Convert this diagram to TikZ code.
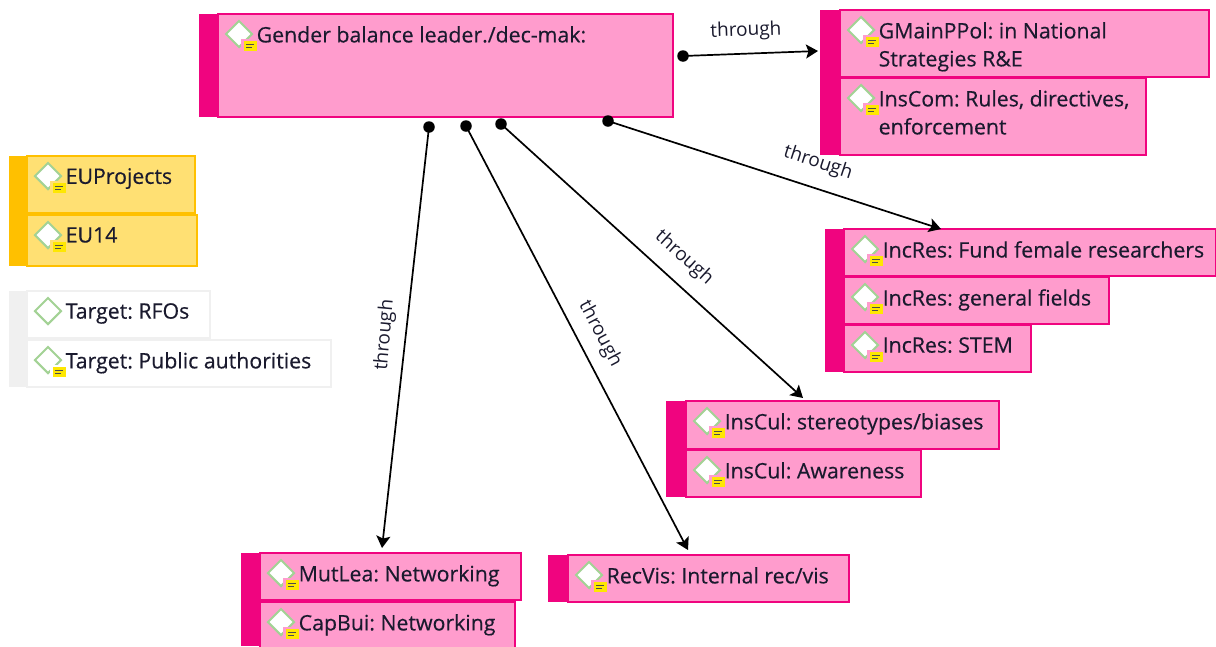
\documentclass[tikz,border=0pt]{standalone}
\usepackage{fontspec}
\setmainfont{Open Sans}
\newfontfamily\itemfont[FakeBold=0.4]{Open Sans}
\usetikzlibrary{calc,arrows.meta}
\definecolor{pinkfill}{HTML}{FF9CCD}
\definecolor{pinkedge}{HTML}{F0047F}
\definecolor{yelfill}{HTML}{FFE073}
\definecolor{yeledge}{HTML}{FFC000}
\definecolor{greyedge}{HTML}{F0F0F0}
\definecolor{diaedge}{HTML}{A3D295}
\definecolor{txt}{HTML}{1A1A2E}
\tikzset{
  x=1pt,y=-1pt,
  box/.style={draw,line width=1.5pt,inner sep=0pt,outer sep=0pt,anchor=north west},
  pinkbox/.style={box,fill=pinkfill,draw=pinkedge},
  yelbox/.style={box,fill=yelfill,draw=yeledge},
  whitebox/.style={box,fill=white,draw=greyedge},
  pinkband/.style={inner sep=0pt,outer sep=0pt,anchor=north west,fill=pinkedge},
  yelband/.style={inner sep=0pt,outer sep=0pt,anchor=north west,fill=yeledge},
  greyband/.style={inner sep=0pt,outer sep=0pt,anchor=north west,fill=greyedge},
  itemtext/.style={inner sep=0pt,anchor=north west,text=txt,font=\itemfont\fontsize{21.3}{28}\selectfont\frenchspacing,align=left},
  linktext/.style={inner sep=0pt,text=txt,font=\fontsize{19}{23}\selectfont},
  link/.style={line width=1.7pt,black,-{Stealth[length=12pt,width=14pt,inset=2.5pt]}},
  dot/.style={circle,fill=black,inner sep=0pt,minimum size=11.5pt},
}
% name, x1, y1, x2, y2, style, text
\newcommand{\boxitem}[7]{%
  \node[#6,minimum width=#4-#2,minimum height=#5-#3] (#1) at (#2,#3) {};
  \node[rotate=45,draw=diaedge,fill=white,line width=2pt,inner sep=0pt,minimum size=18.5pt] (#1d) at ($(#1.north west)+(21,20)$) {};
  \node[itemtext] (#1t) at ($(#1.north west)+(38.5,12)$) {\rule{0pt}{15pt}#7};
}
% name, background colour
\newcommand{\noteicon}[2]{%
  \fill[#2] ($(#1.north west)+(23,25)$) rectangle ($(#1.north west)+(39,37)$);
  \fill[yellow!90!orange] ($(#1.north west)+(25.5,27)$) rectangle ($(#1.north west)+(38.5,37)$);
  \draw[black!70,line width=1.1pt] ($(#1.north west)+(28,30.5)$) -- ($(#1.north west)+(36,30.5)$)
    ($(#1.north west)+(28,33.5)$) -- ($(#1.north west)+(34,33.5)$);
}
\begin{document}
\begin{tikzpicture}
\useasboundingbox (0,0) rectangle (1216,646);
% bands
\node[pinkband,minimum width=19,minimum height=103] (bmain) at (199,14) {};
\node[pinkband,minimum width=20,minimum height=145] (bg) at (820,10) {};
\node[pinkband,minimum width=19,minimum height=143] (bi) at (825,229) {};
\node[pinkband,minimum width=20,minimum height=96] (bc) at (666,401) {};
\node[pinkband,minimum width=19,minimum height=93] (bm) at (241,553) {};
\node[pinkband,minimum width=20,minimum height=47] (br) at (548,555) {};
\node[yelband,minimum width=18,minimum height=110] (be) at (9,156) {};
\node[greyband,minimum width=18,minimum height=96] (bt) at (9,291) {};
% items
\boxitem{main}{218}{14}{673}{117}{pinkbox}{Gender balance leader./dec-mak:}\noteicon{main}{pinkfill}
\boxitem{gmain}{840}{10}{1209}{77}{pinkbox}{GMainPPol: in National\\Strategies R\&E}\noteicon{gmain}{pinkfill}
\boxitem{inscom}{840}{78}{1146}{155}{pinkbox}{InsCom: Rules, directives,\\enforcement}\noteicon{inscom}{pinkfill}
\boxitem{inca}{844}{229}{1216}{276}{pinkbox}{IncRes: Fund female researchers}\noteicon{inca}{pinkfill}
\boxitem{incb}{844}{277}{1109}{324}{pinkbox}{IncRes: general fields}\noteicon{incb}{pinkfill}
\boxitem{incc}{844}{325}{1031}{372}{pinkbox}{IncRes: STEM}\noteicon{incc}{pinkfill}
\boxitem{cula}{686}{401}{999}{449}{pinkbox}{InsCul: stereotypes/biases}\noteicon{cula}{pinkfill}
\boxitem{culb}{686}{450}{921}{497}{pinkbox}{InsCul: Awareness}\noteicon{culb}{pinkfill}
\boxitem{mut}{260}{553}{521}{600}{pinkbox}{MutLea: Networking}\noteicon{mut}{pinkfill}
\boxitem{cap}{260}{602}{515}{650}{pinkbox}{CapBui: Networking}\noteicon{cap}{pinkfill}
\boxitem{rec}{568}{555}{849}{602}{pinkbox}{RecVis: Internal rec/vis}\noteicon{rec}{pinkfill}
\boxitem{eup}{27}{156}{195}{213}{yelbox}{EUProjects}\noteicon{eup}{yelfill}
\boxitem{eu}{27}{215}{197}{266}{yelbox}{EU14}\noteicon{eu}{yelfill}
\boxitem{rfo}{27}{291}{210}{338}{whitebox}{Target: RFOs}
\boxitem{pub}{27}{340}{331}{387}{whitebox}{Target: Public authorities}\noteicon{pub}{white}
% connector origins
\coordinate (s1) at ($(main.south east)+(10,-61)$);
\coordinate (s2) at ($(main.south west)+(390,4)$);
\coordinate (s3) at ($(main.south west)+(283,7)$);
\coordinate (s4) at ($(main.south west)+(248,9)$);
\coordinate (s5) at ($(main.south west)+(211,10)$);
\foreach \s in {s1,s2,s3,s4,s5} \node[dot] at (\s) {};
\draw[link] (s1) -- ($(bg.north west)+(-2,41)$);
\draw[link] (s2) -- ($(bi.north west)+(116,0)$);
\draw[link] (s3) -- ($(cula.north west)+(117,-3)$);
\draw[link] (s4) -- ($(rec.north west)+(120,-5)$);
\draw[link] (s5) -- ($(mut.north west)+(122,-5)$);
\node[linktext,rotate=2] (l1) at (746,31) {through};
\node[linktext,rotate=-18] (l2) at (818,163) {through};
\node[linktext,rotate=-42] (l3) at (684,258) {through};
\node[linktext,rotate=-62] (l4) at (600,334) {through};
\node[linktext,rotate=85] (l5) at (385,335) {through};
\end{tikzpicture}
\end{document}
